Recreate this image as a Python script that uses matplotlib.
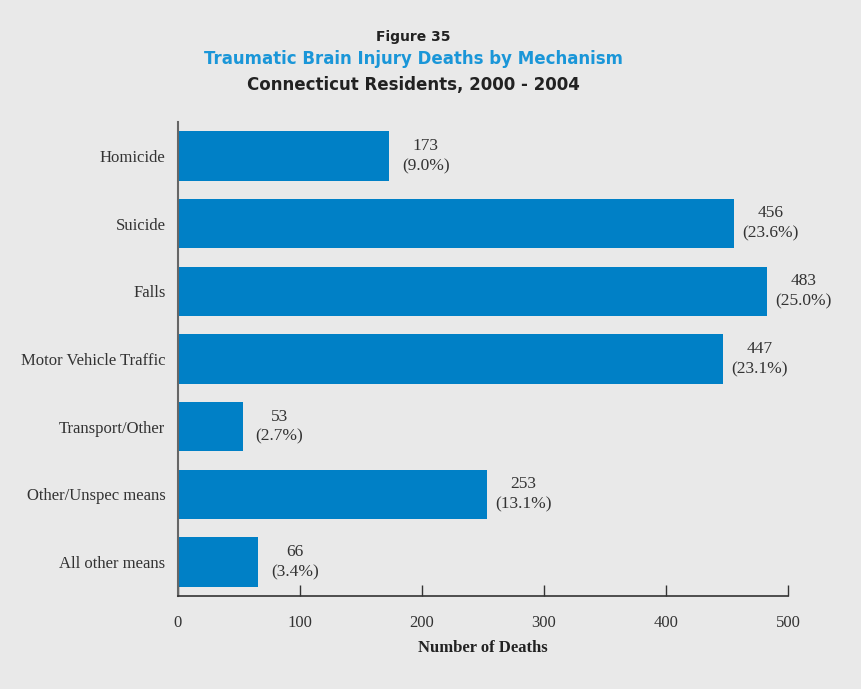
import matplotlib.pyplot as plt
import numpy as np

categories = ["Homicide", "Suicide", "Falls", "Motor Vehicle Traffic",
              "Transport/Other", "Other/Unspec means", "All other means"]
deaths = [173, 456, 483, 447, 53, 253, 66]
percents = ["9.0%", "23.6%", "25.0%", "23.1%", "2.7%", "13.1%", "3.4%"]
xticks = [0, 100, 200, 300, 400, 500]

bg = "#e9e9e9"
bar_color = "#0080c6"
serif = ["Liberation Serif", "DejaVu Serif"]

fig = plt.figure(figsize=(8.61, 6.89), dpi=100, facecolor=bg)
ax = fig.add_axes([0.2067, 0.135, 0.7085, 0.688])
ax.set_facecolor(bg)

y = np.arange(len(categories))
ax.barh(y, deaths, height=0.73, color=bar_color)
ax.set_ylim(len(categories) - 0.5, -0.5)
ax.set_xlim(0, 500)

for yi, d, p in zip(y, deaths, percents):
    ax.text(d + 30, yi, f"{d}\n({p})", ha="center", va="center",
            fontsize=12.5, family=serif, color="#333333", linespacing=1.35)

ax.set_yticks(y)
ax.set_yticklabels(categories, family=serif, fontsize=12, color="#333333")
ax.tick_params(axis="y", length=0, pad=9)
ax.set_xticks(xticks)
ax.set_xticklabels([str(t) for t in xticks], family=serif, fontsize=12, color="#333333")
ax.tick_params(axis="x", direction="in", length=8, width=1, color="#333333", pad=14)

for s in ["top", "right"]:
    ax.spines[s].set_visible(False)
ax.spines["left"].set_color("#666666")
ax.spines["left"].set_linewidth(1.5)
ax.spines["bottom"].set_color("#333333")
ax.spines["bottom"].set_linewidth(1.2)

ax.set_xlabel("Number of Deaths", family=serif, fontsize=12, fontweight="bold",
              color="#222222", labelpad=6)

fig.text(0.480, 0.946, "Figure 35", ha="center", va="center", fontsize=10,
         fontweight="bold", color="#222222")
fig.text(0.480, 0.915, "Traumatic Brain Injury Deaths by Mechanism", ha="center",
         va="center", fontsize=12, fontweight="bold", color="#1a96d8")
fig.text(0.480, 0.877, "Connecticut Residents, 2000 - 2004", ha="center",
         va="center", fontsize=12, fontweight="bold", color="#222222")

fig.savefig("out.png", dpi=100, facecolor=bg)
